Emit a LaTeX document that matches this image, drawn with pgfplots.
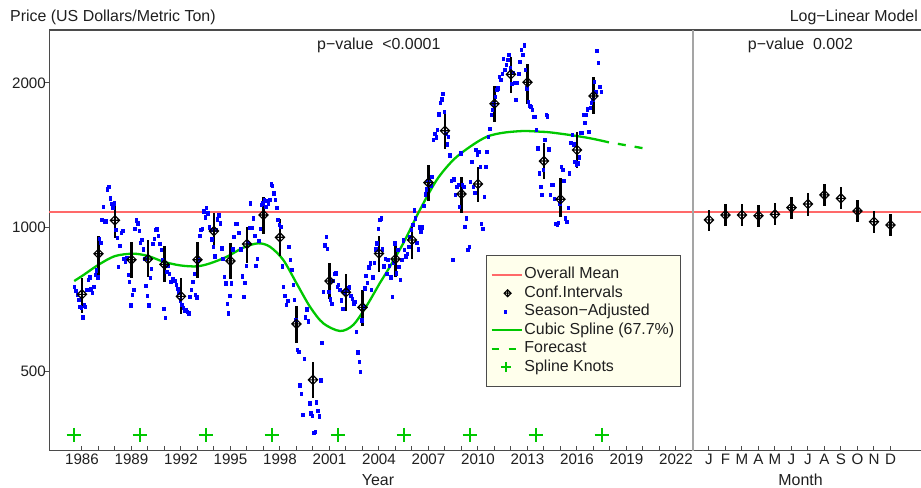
\documentclass[border=0pt]{standalone}
\usepackage{fontspec}
\setmainfont{Liberation Sans}
\usepackage{pgfplots}
\usepackage{pgfplotstable}
\pgfplotsset{compat=1.18}

\definecolor{meanred}{RGB}{255,105,105}
\definecolor{splgreen}{RGB}{0,200,0}
\definecolor{ptblue}{RGB}{0,0,255}
\definecolor{legbg}{RGB}{255,255,236}
\definecolor{framec}{RGB}{75,75,75}
\definecolor{divc}{RGB}{165,165,165}

\pgfdeclareplotmark{dplus}{%
  \pgfpathmoveto{\pgfqpoint{\pgfplotmarksize}{0pt}}%
  \pgfpathlineto{\pgfqpoint{0pt}{\pgfplotmarksize}}%
  \pgfpathlineto{\pgfqpoint{-\pgfplotmarksize}{0pt}}%
  \pgfpathlineto{\pgfqpoint{0pt}{-\pgfplotmarksize}}%
  \pgfpathclose
  \pgfpathmoveto{\pgfqpoint{\pgfplotmarksize}{0pt}}%
  \pgfpathlineto{\pgfqpoint{-\pgfplotmarksize}{0pt}}%
  \pgfpathmoveto{\pgfqpoint{0pt}{\pgfplotmarksize}}%
  \pgfpathlineto{\pgfqpoint{0pt}{-\pgfplotmarksize}}%
  \pgfusepathqstroke}

% season-adjusted monthly prices, one row per year group
\pgfplotstableread{
yr m1 m2 m3 m4 m5 m6 m7 m8 m9 m10 m11 m12
1986 752 738 724 706 683 680 650 688 683 742 778 787
1987 743 730 752 798 814 787 946 929 1036 1102 1030 1030
1988 1200 1217 1150 1120 1100 1122 990 950 828 917 975 982
1989 860 847 862 798 771 688 724 740 995 1034 1020 982
1990 930 941 900 860 756 719 688 785 820 925 946 990
1991 991 960 925 897 857 677 648 807 833 800 770 780
1992 780 775 760 745 730 705 690 680 670 672 668 662
1993 718 740 770 800 724 715 855 960 990 992 1080 1050
1994 1100 1070 1000 990 945 910 870 990 1040 1060 1020 905
1995 860 790 765 693 662 720 765 900 957 1016 1016 973
1996 973 900 791 717 768 832 929 998 1122 998 1044 960
1997 831 860 938 995 1113 1122 1140 1104 1136 1120 1140 1230
1998 1219 1178 1140 1100 1036 1014 1003 830 752 720 690 703
1999 910 855 817 760 707 641 555 551 469 450 407 532
2000 650 675 637 430 410 405 373 375 432 415 404 480
2001 574 734 918 957 902 734 708 694 773 800 802 752
2002 760 742 705 677 734 729 737 747 750 720 710 695
2003 700 606 549 524 500 640 683 747 792 767 826 842
2004 740 787 843 900 926 993 1036 1044 900 830 860 800
2005 855 831 787 717 843 926 802 897 828 777 855 940
2006 897 870 880 910 957 987 1011 1086 1044 930 900 1000
2007 980 1000 1110 1172 1200 1250 1250 1219 1274 1520 1568 1540
2008 1600 1720 1817 1850 1900 1744 1569 1490 1545 1414 1250 855
2009 1260 1168 1215 1225 1104 1426 1225 1215 1003 1044 897 910
2010 1245 1370 1215 1180 1450 1420 1437 1337 1019 995 1159 1337
2011 1437 1545 1606 1714 1755 1811 1868 1932 1950 2062 2027 2090
2012 2248 2127 2182 2231 2289 2145 1993 2100 2000 1842 2000 2090
2013 2210 2341 2289 2396 2127 1949 1826 1795 1783 1755 1698 1700
2014 1600 1462 1297 1215 1168 1316 1520 1714 1705 1455 1168 1225
2015 1225 1149 1019 1011 1022 1122 1337 1316 1250 1044 1027 1100
2016 1297 1500 1560 1490 1370 1348 1360 1400 1575 1575 1714 1650
2017 1714 1763 1583 1775 1817 1842 2011 1917 2336 2199 1960 1917
}\season

% annual means with confidence intervals
\pgfplotstableread{
x y lo hi
1986 725 662 783
1987 881 783 959
1988 1034 949 1131
1989 856 785 933
1990 859 789 940
1991 837 769 916
1992 718 660 783
1993 856 785 931
1994 982 901 1069
1995 851 779 926
1996 923 841 1000
1997 1061 968 1155
1998 953 871 1039
1999 629 575 686
2000 481 440 525
2001 773 708 841
2002 732 670 798
2003 681 623 740
2004 882 808 959
2005 859 787 933
2006 941 860 1022
2007 1239 1134 1348
2008 1589 1454 1728
2009 1173 1073 1275
2010 1231 1127 1337
2011 1809 1660 1970
2012 2083 1902 2260
2013 2005 1807 2186
2014 1374 1259 1501
2015 1144 1049 1265
2016 1449 1327 1577
2017 1877 1722 2054
}\annual

% monthly effects (J..D placed at 2024..2035)
\pgfplotstableread{
x y lo hi
2024 1036 982 1087
2025 1061 1006 1117
2026 1061 1006 1117
2027 1057 1003 1113
2028 1064 1010 1122
2029 1099 1040 1158
2030 1118 1057 1177
2031 1168 1108 1231
2032 1149 1090 1212
2033 1081 1026 1140
2034 1027 974 1081
2035 1011 959 1064
}\monthly

\pgfplotstableread{
x y
1985.53 773
1986.08 795
1986.99 835
1988.00 871
1989.11 881
1990.02 871
1990.93 848
1991.94 833
1992.95 829
1993.76 841
1994.77 868
1995.78 907
1996.68 926
1997.39 911
1998.20 855
1999.01 764
1999.82 683
2000.62 631
2001.64 608
2002.44 626
2003.25 686
2004.06 766
2004.47 807
2005.47 926
2006.48 1087
2007.50 1255
2008.50 1381
2009.52 1472
2010.53 1544
2011.53 1574
2012.75 1587
2013.76 1582
2014.36 1577
2015.58 1557
2016.79 1533
2017.94 1503
}\spline

\pgfplotstableread{
x y
2017.94 1503
2019.00 1482
2020.02 1461
}\forecast

\pgfplotstableread{
x y
1985.5 369
1989.5 369
1993.5 369
1997.5 369
2001.5 369
2005.5 369
2009.5 369
2013.5 369
2017.5 369
}\knots

\begin{document}
\begin{tikzpicture}
\begin{axis}[
  name=main,
  scale only axis,
  width=871.7bp, height=420.7bp,
  xmin=1984.02, xmax=2036.85,
  ymode=log, ymin=342.4, ymax=2577,
  axis x line*=bottom, axis y line*=left,
  axis line style={framec, line width=1.3bp},
  clip=false,
  xtick={1986,1987,1988,1989,1990,1991,1992,1993,1994,1995,1996,1997,1998,1999,2000,2001,2002,2003,2004,2005,2006,2007,2008,2009,2010,2011,2012,2013,2014,2015,2016,2017,2018,2019,2020,2021,2022,2024,2025,2026,2027,2028,2029,2030,2031,2032,2033,2034,2035},
  xticklabels={1986,{},{},1989,{},{},1992,{},{},1995,{},{},1998,{},{},2001,{},{},2004,{},{},2007,{},{},2010,{},{},2013,{},{},2016,{},{},2019,{},{},2022,J,F,M,A,M,J,J,A,S,O,N,D},
  ytick={500,1000,2000},
  yticklabels={500,1000,2000},
  tick align=inside,
  major tick length=5bp,
  tick style={framec, line width=1bp},
  ytick style={xshift=-5bp},
  minor tick length=0pt,
  minor tick style={draw=none},
  ticklabel style={font=\fontsize{15.2}{18}\selectfont, text=black!88},
  legend cell align=left,
  legend style={
    at={(0.5006,0.4652)}, anchor=north west,
    fill=legbg, draw=framec, line width=1bp,
    font=\fontsize{16}{18}\selectfont, text=black!88,
    inner xsep=4.3bp, inner ysep=10bp,
    row sep=0pt, column sep=0pt,
    nodes={inner xsep=1.7bp, inner ysep=1.8bp, text height=11.5bp, text depth=3.4bp},
  },
]
% legend entries
\addlegendimage{legend image code/.code={\path[draw=none,fill=none] (0bp,-5bp) rectangle (30bp,5bp); \draw[meanred, line width=1.7bp] (0bp,0bp) -- (30bp,0bp);}}
\addlegendentry{Overall Mean}
\addlegendimage{legend image code/.code={\path[draw=none,fill=none] (0bp,-5bp) rectangle (30bp,5bp); \draw[black, line width=1bp] (12.5bp,0bp) -- (16bp,3.5bp) -- (19.5bp,0bp) -- (16bp,-3.5bp) -- cycle (12.5bp,0bp) -- (19.5bp,0bp) (16bp,3.5bp) -- (16bp,-3.5bp);}}
\addlegendentry{Conf.Intervals}
\addlegendimage{legend image code/.code={\path[draw=none,fill=none] (0bp,-5bp) rectangle (30bp,5bp); \fill[ptblue] (12.5bp,-1.6bp) rectangle (14.5bp,1.6bp);}}
\addlegendentry{Season−Adjusted}
\addlegendimage{legend image code/.code={\path[draw=none,fill=none] (0bp,-5bp) rectangle (30bp,5bp); \draw[splgreen, line width=2.3bp] (0bp,0bp) -- (30bp,0bp);}}
\addlegendentry{Cubic Spline (67.7\%)}
\addlegendimage{legend image code/.code={\path[draw=none,fill=none] (0bp,-5bp) rectangle (30bp,5bp); \draw[splgreen, line width=2.3bp, dash pattern=on 7bp off 10bp] (0bp,0bp) -- (30bp,0bp);}}
\addlegendentry{Forecast}
\addlegendimage{legend image code/.code={\path[draw=none,fill=none] (0bp,-5bp) rectangle (30bp,5bp); \draw[splgreen, line width=1.7bp] (9.5bp,0bp) -- (19.5bp,0bp) (14.5bp,-5bp) -- (14.5bp,5bp);}}
\addlegendentry{Spline Knots}

% overall mean
\addplot[forget plot, meanred, line width=1.7bp] coordinates {(1984.02,1077) (2036.85,1077)};

% season adjusted points
\pgfplotsinvokeforeach{1,...,12}{
  \addplot[forget plot, only marks, mark=square*, mark size=1.25bp, color=ptblue, mark options={yscale=1.3}]
    table[x expr=\thisrow{yr}+(#1-6.5)/12, y=m#1] {\season};
}

% spline and forecast
\addplot[forget plot, splgreen, line width=2.3bp, smooth] table[x=x,y=y] {\spline};
\addplot[forget plot, splgreen, line width=2.3bp, dash pattern=on 8bp off 9bp, dash phase=8bp] table[x=x,y=y] {\forecast};

% knots
\addplot[forget plot, only marks, mark=+, mark size=7.2bp, color=splgreen, mark options={line width=1.7bp}] table[x=x,y=y] {\knots};

% confidence intervals
\addplot[forget plot, only marks, mark=dplus, mark size=4.6bp, mark options={black, line width=1.15bp},
  error bars/.cd, y dir=both, y explicit, error mark=none,
  error bar style={black, line width=2.6bp}]
  table[x=x, y=y, y error plus expr=\thisrow{hi}-\thisrow{y}, y error minus expr=\thisrow{y}-\thisrow{lo}] {\annual};
\addplot[forget plot, only marks, mark=dplus, mark size=4.6bp, mark options={black, line width=1.15bp},
  error bars/.cd, y dir=both, y explicit, error mark=none,
  error bar style={black, line width=2.6bp}]
  table[x=x, y=y, y error plus expr=\thisrow{hi}-\thisrow{y}, y error minus expr=\thisrow{y}-\thisrow{lo}] {\monthly};

% frame pieces
\draw[framec, line width=1.3bp] (rel axis cs:0,1) -- (rel axis cs:1,1);
\draw[divc, line width=1.6bp] (rel axis cs:0.7384,0) -- (rel axis cs:0.7384,1);

% texts
\node[inner sep=0pt, anchor=base west, font=\fontsize{16}{18}\selectfont, text=black!88] at (rel axis cs:-0.0451,1.019) {Price (US Dollars/Metric Ton)};
\node[inner sep=0pt, anchor=base east, font=\fontsize{16}{18}\selectfont, text=black!88] at (rel axis cs:0.9966,1.019) {Log−Linear Model};
\node[inner sep=0pt, anchor=base west, font=\fontsize{16}{18}\selectfont, text=black!88] at (rel axis cs:0.3071,0.9541) {p−value\ \ <0.0001};
\node[inner sep=0pt, anchor=base west, font=\fontsize{16}{18}\selectfont, text=black!88] at (rel axis cs:0.8013,0.9525) {p−value\ \ 0.002};
\node[inner sep=0pt, anchor=base, font=\fontsize{16}{18}\selectfont, text=black!88] at (rel axis cs:0.3771,-0.0827) {Year};
\node[inner sep=0pt, anchor=base, font=\fontsize{16}{18}\selectfont, text=black!88] at (rel axis cs:0.8618,-0.0827) {Month};
\end{axis}
\pgfresetboundingbox
\path[use as bounding box] ([xshift=-49.3bp,yshift=-37.3bp]main.south west) rectangle ([yshift=30bp]main.north east);
\end{tikzpicture}
\end{document}
